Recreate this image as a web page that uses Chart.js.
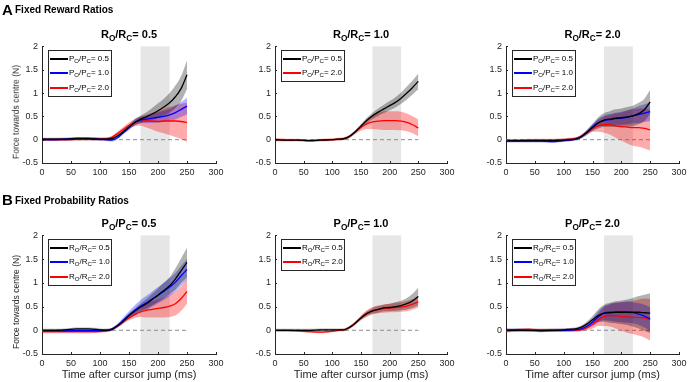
<!DOCTYPE html>
<html>
<head>
<meta charset="utf-8">
<script src="https://cdn.jsdelivr.net/npm/chart.js@4/dist/chart.umd.min.js"></script>
<style>
  body { margin: 0; background: #fff; }
  #fig { position: relative; width: 688px; height: 382px; overflow: hidden; font-family: "Liberation Sans", Arial, sans-serif; color: #262626; }
  canvas { position: absolute; }
  .txt { position: absolute; white-space: nowrap; line-height: 1; }
  .letter { font-weight: bold; font-size: 15px; color: #000; }
  .head { font-weight: bold; font-size: 10px; color: #000; }
  .ttl { font-weight: bold; font-size: 11px; text-align: center; color: #000; }
  .xlab { font-size: 11px; }
  .ylab { font-size: 8.5px; transform: translate(-50%, -50%) rotate(-90deg); }
  sub { font-size: 75%; vertical-align: -0.4em; line-height: 0; }
  .legend { position: absolute; background: #fff; border: 1px solid #262626; font-size: 8px; box-sizing: border-box; }
  .legend .row { position: absolute; left: 1px; height: 12px; white-space: nowrap; }
  .legend .swatch { position: absolute; left: 0; top: 5px; width: 18px; height: 1.5px; }
  .legend .lbl { position: absolute; left: 19px; top: 1px; color: #000; }
</style>
</head>
<body>
<div id="fig"></div>
<script>
// shared axes
const TIME = [0, 20, 40, 60, 80, 100, 110, 120, 130, 140, 150, 160, 170, 180, 190, 200, 210, 220, 230, 240, 250];
const WINDOW_MS = [170, 220];
const X_TICKS = [0, 50, 100, 150, 200, 250, 300];
const Y_TICKS = [-0.5, 0, 0.5, 1, 1.5, 2];

// A: fixed reward ratio R_O/R_C = 0.5
const a1Black    = [0.01, 0.01, 0.01, 0.02, 0.02, 0.01, 0.01, 0.02, 0.08, 0.17, 0.27, 0.37, 0.44, 0.49, 0.55, 0.62, 0.70, 0.79, 0.92, 1.10, 1.39];
const a1BlackErr = [0.03, 0.03, 0.03, 0.03, 0.03, 0.03, 0.03, 0.03, 0.03, 0.04, 0.05, 0.06, 0.08, 0.10, 0.13, 0.16, 0.18, 0.21, 0.24, 0.27, 0.31];
const a1Blue     = [0.00, 0.00, 0.01, 0.03, 0.03, 0.01, 0.00, -0.01, 0.04, 0.15, 0.26, 0.37, 0.42, 0.44, 0.46, 0.48, 0.50, 0.53, 0.58, 0.65, 0.72];
const a1BlueErr  = [0.03, 0.03, 0.03, 0.03, 0.03, 0.03, 0.03, 0.03, 0.03, 0.04, 0.05, 0.06, 0.07, 0.08, 0.10, 0.11, 0.12, 0.13, 0.15, 0.16, 0.18];
const a1Red      = [0.00, 0.00, 0.00, 0.01, 0.01, 0.01, 0.02, 0.05, 0.13, 0.22, 0.31, 0.37, 0.40, 0.40, 0.40, 0.39, 0.40, 0.40, 0.40, 0.39, 0.37];
const a1RedErr   = [0.03, 0.03, 0.03, 0.03, 0.03, 0.03, 0.03, 0.03, 0.04, 0.05, 0.06, 0.08, 0.10, 0.14, 0.18, 0.22, 0.26, 0.30, 0.34, 0.38, 0.42];

// A: R_O/R_C = 1.0
const a2Black    = [0.00, -0.01, -0.01, -0.02, -0.01, 0.00, 0.01, 0.02, 0.07, 0.17, 0.29, 0.41, 0.51, 0.59, 0.66, 0.73, 0.80, 0.89, 1.00, 1.12, 1.25];
const a2BlackErr = [0.02, 0.02, 0.02, 0.02, 0.02, 0.02, 0.02, 0.02, 0.03, 0.03, 0.04, 0.06, 0.07, 0.08, 0.09, 0.10, 0.11, 0.12, 0.14, 0.15, 0.17];
const a2Red      = [0.00, -0.01, -0.01, -0.02, -0.01, 0.00, 0.01, 0.02, 0.07, 0.16, 0.26, 0.34, 0.38, 0.40, 0.41, 0.41, 0.41, 0.40, 0.37, 0.32, 0.25];
const a2RedErr   = [0.04, 0.03, 0.03, 0.03, 0.03, 0.03, 0.03, 0.03, 0.03, 0.04, 0.07, 0.11, 0.15, 0.18, 0.20, 0.20, 0.20, 0.20, 0.19, 0.18, 0.18];

// A: R_O/R_C = 2.0
const a3Black    = [-0.02, -0.02, -0.02, -0.02, -0.02, -0.01, 0.00, 0.01, 0.06, 0.15, 0.26, 0.36, 0.42, 0.44, 0.46, 0.47, 0.49, 0.51, 0.56, 0.64, 0.81];
const a3BlackErr = [0.03, 0.03, 0.03, 0.03, 0.03, 0.03, 0.03, 0.03, 0.04, 0.06, 0.08, 0.12, 0.15, 0.17, 0.19, 0.20, 0.21, 0.22, 0.23, 0.24, 0.26];
const a3Blue     = [-0.03, -0.03, -0.03, -0.03, -0.04, -0.02, -0.01, 0.01, 0.06, 0.16, 0.27, 0.36, 0.41, 0.43, 0.45, 0.46, 0.48, 0.51, 0.54, 0.57, 0.60];
const a3BlueErr  = [0.03, 0.03, 0.03, 0.03, 0.03, 0.03, 0.03, 0.03, 0.03, 0.04, 0.06, 0.09, 0.11, 0.12, 0.13, 0.14, 0.15, 0.16, 0.18, 0.19, 0.20];
const a3Red      = [-0.02, -0.02, -0.01, -0.01, -0.01, 0.00, 0.01, 0.02, 0.07, 0.15, 0.24, 0.30, 0.32, 0.32, 0.30, 0.28, 0.27, 0.26, 0.26, 0.24, 0.21];
const a3RedErr   = [0.03, 0.03, 0.03, 0.03, 0.03, 0.03, 0.03, 0.03, 0.03, 0.04, 0.07, 0.13, 0.17, 0.21, 0.26, 0.30, 0.35, 0.39, 0.41, 0.43, 0.44];

// B: fixed probability ratio P_O/P_C = 0.5
const b1Black    = [0.00, 0.00, 0.01, 0.03, 0.03, 0.01, 0.00, 0.02, 0.09, 0.19, 0.31, 0.40, 0.49, 0.56, 0.65, 0.74, 0.84, 0.94, 1.08, 1.26, 1.43];
const b1BlackErr = [0.03, 0.03, 0.03, 0.03, 0.03, 0.03, 0.03, 0.03, 0.03, 0.04, 0.05, 0.06, 0.08, 0.10, 0.12, 0.14, 0.16, 0.18, 0.22, 0.26, 0.31];
const b1Blue     = [-0.01, -0.01, -0.01, -0.01, -0.01, -0.01, 0.00, 0.02, 0.10, 0.21, 0.32, 0.42, 0.51, 0.58, 0.66, 0.74, 0.82, 0.91, 1.01, 1.15, 1.28];
const b1BlueErr  = [0.03, 0.03, 0.03, 0.03, 0.03, 0.03, 0.03, 0.03, 0.04, 0.06, 0.08, 0.11, 0.13, 0.15, 0.16, 0.17, 0.18, 0.19, 0.20, 0.21, 0.22];
const b1Red      = [-0.03, -0.03, -0.03, -0.03, -0.03, -0.02, -0.01, 0.02, 0.09, 0.18, 0.26, 0.33, 0.39, 0.42, 0.44, 0.46, 0.48, 0.51, 0.56, 0.67, 0.82];
const b1RedErr   = [0.03, 0.03, 0.03, 0.03, 0.03, 0.03, 0.03, 0.03, 0.03, 0.04, 0.05, 0.07, 0.11, 0.15, 0.17, 0.19, 0.21, 0.23, 0.25, 0.26, 0.26];

// B: P_O/P_C = 1.0
const b2Black    = [0.00, 0.00, 0.00, 0.00, 0.01, 0.01, 0.01, 0.01, 0.06, 0.15, 0.26, 0.35, 0.41, 0.44, 0.47, 0.48, 0.50, 0.52, 0.56, 0.62, 0.71];
const b2BlackErr = [0.03, 0.03, 0.03, 0.03, 0.03, 0.03, 0.03, 0.03, 0.03, 0.03, 0.04, 0.05, 0.06, 0.07, 0.07, 0.08, 0.09, 0.10, 0.12, 0.15, 0.19];
const b2Red      = [0.00, 0.00, -0.01, -0.03, -0.04, -0.02, 0.00, 0.01, 0.06, 0.15, 0.26, 0.35, 0.41, 0.44, 0.46, 0.47, 0.48, 0.49, 0.51, 0.55, 0.60];
const b2RedErr   = [0.02, 0.02, 0.02, 0.02, 0.02, 0.02, 0.02, 0.02, 0.03, 0.04, 0.05, 0.07, 0.08, 0.08, 0.09, 0.09, 0.10, 0.10, 0.11, 0.11, 0.12];

// B: P_O/P_C = 2.0
const b3Black    = [0.00, 0.00, 0.00, 0.00, 0.00, 0.01, 0.02, 0.03, 0.06, 0.13, 0.22, 0.31, 0.36, 0.37, 0.38, 0.38, 0.38, 0.38, 0.38, 0.37, 0.36];
const b3BlackErr = [0.03, 0.03, 0.03, 0.03, 0.03, 0.03, 0.03, 0.03, 0.04, 0.05, 0.08, 0.13, 0.18, 0.21, 0.23, 0.25, 0.27, 0.30, 0.34, 0.38, 0.42];
const b3Blue     = [0.01, 0.01, 0.00, -0.01, 0.00, 0.00, 0.00, 0.01, 0.03, 0.08, 0.17, 0.28, 0.36, 0.38, 0.38, 0.38, 0.38, 0.37, 0.34, 0.30, 0.24];
const b3BlueErr  = [0.03, 0.03, 0.03, 0.03, 0.03, 0.03, 0.03, 0.03, 0.04, 0.05, 0.08, 0.12, 0.15, 0.18, 0.20, 0.21, 0.22, 0.22, 0.23, 0.24, 0.25];
const b3Red      = [-0.02, 0.01, 0.02, 0.00, 0.00, 0.00, 0.00, 0.00, 0.01, 0.05, 0.12, 0.22, 0.29, 0.31, 0.31, 0.29, 0.28, 0.27, 0.27, 0.26, 0.22];
const b3RedErr   = [0.03, 0.03, 0.03, 0.03, 0.03, 0.03, 0.03, 0.03, 0.03, 0.05, 0.08, 0.13, 0.20, 0.23, 0.27, 0.30, 0.33, 0.35, 0.38, 0.41, 0.44];

const BLACK = { line: "#000000", band: "rgba(0,0,0,0.3)" };
const BLUE = { line: "#0000ff", band: "rgba(0,0,255,0.3)" };
const RED = { line: "#ff0000", band: "rgba(255,0,0,0.33)" };

// layout of the six axes (pixel boxes of the plot areas)
const cols = [{ l: 42, r: 216 }, { l: 275, r: 447 }, { l: 506, r: 679 }];
const rows = [{ t: 45, b: 163 }, { t: 234, b: 354 }];

const panels = [
  { row: 0, col: 0, title: ["R", "0.5"], key: "P", series: [
    { ratio: "0.5", c: BLACK, mean: a1Black, err: a1BlackErr },
    { ratio: "1.0", c: BLUE, mean: a1Blue, err: a1BlueErr },
    { ratio: "2.0", c: RED, mean: a1Red, err: a1RedErr }] },
  { row: 0, col: 1, title: ["R", "1.0"], key: "P", series: [
    { ratio: "0.5", c: BLACK, mean: a2Black, err: a2BlackErr },
    { ratio: "2.0", c: RED, mean: a2Red, err: a2RedErr }] },
  { row: 0, col: 2, title: ["R", "2.0"], key: "P", series: [
    { ratio: "0.5", c: BLACK, mean: a3Black, err: a3BlackErr },
    { ratio: "1.0", c: BLUE, mean: a3Blue, err: a3BlueErr },
    { ratio: "2.0", c: RED, mean: a3Red, err: a3RedErr }] },
  { row: 1, col: 0, title: ["P", "0.5"], key: "R", series: [
    { ratio: "0.5", c: BLACK, mean: b1Black, err: b1BlackErr },
    { ratio: "1.0", c: BLUE, mean: b1Blue, err: b1BlueErr },
    { ratio: "2.0", c: RED, mean: b1Red, err: b1RedErr }] },
  { row: 1, col: 1, title: ["P", "1.0"], key: "R", series: [
    { ratio: "0.5", c: BLACK, mean: b2Black, err: b2BlackErr },
    { ratio: "2.0", c: RED, mean: b2Red, err: b2RedErr }] },
  { row: 1, col: 2, title: ["P", "2.0"], key: "R", series: [
    { ratio: "0.5", c: BLACK, mean: b3Black, err: b3BlackErr },
    { ratio: "1.0", c: BLUE, mean: b3Blue, err: b3BlueErr },
    { ratio: "2.0", c: RED, mean: b3Red, err: b3RedErr }] },
];

const fig = document.getElementById("fig");

const addText = (cls, html, style) => {
  const d = document.createElement("div");
  d.className = "txt " + cls;
  d.innerHTML = html;
  Object.assign(d.style, style);
  fig.appendChild(d);
  return d;
};

const ratioHtml = (k) => `${k}<sub>O</sub>/${k}<sub>C</sub>`;

// grey analysis window behind the data
const windowPlugin = {
  id: "window",
  beforeDatasetsDraw(chart) {
    const { ctx, scales: { x, y } } = chart;
    const x0 = x.getPixelForValue(WINDOW_MS[0]);
    const x1 = x.getPixelForValue(WINDOW_MS[1]);
    const y0 = y.getPixelForValue(Y_TICKS[Y_TICKS.length - 1]);
    const y1 = y.getPixelForValue(Y_TICKS[0]);
    ctx.save();
    ctx.fillStyle = "#e6e6e6";
    ctx.fillRect(x0, y0, x1 - x0, y1 - y0);
    ctx.restore();
  },
};

// matlab style inward tick marks
const inTicks = {
  id: "inTicks",
  afterDraw(chart) {
    const { ctx, chartArea: a, scales: { x, y } } = chart;
    ctx.save();
    ctx.strokeStyle = "#262626";
    ctx.lineWidth = 1;
    ctx.beginPath();
    X_TICKS.forEach((t) => {
      const px = Math.round(x.getPixelForValue(t)) + 0.5;
      ctx.moveTo(px, a.bottom);
      ctx.lineTo(px, a.bottom - 2);
    });
    Y_TICKS.forEach((v) => {
      const py = Math.round(y.getPixelForValue(v)) + 0.5;
      ctx.moveTo(a.left, py);
      ctx.lineTo(a.left + 2, py);
    });
    ctx.stroke();
    ctx.restore();
  },
};

const PAD_L = 32, PAD_T = 8, PAD_R = 12, PAD_B = 16;

panels.forEach((p) => {
  const c = cols[p.col], r = rows[p.row];
  const w = c.r - c.l, h = r.b - r.t;

  const canvas = document.createElement("canvas");
  canvas.width = w + PAD_L + PAD_R;
  canvas.height = h + PAD_T + PAD_B;
  canvas.style.left = c.l - PAD_L + "px";
  canvas.style.top = r.t - PAD_T + "px";
  fig.appendChild(canvas);

  const datasets = [];
  p.series.forEach((s) => {
    datasets.push({
      data: TIME.map((t, i) => ({ x: t, y: s.mean[i] })),
      borderColor: s.c.line,
      borderWidth: 1.3,
      pointRadius: 0,
      cubicInterpolationMode: "monotone",
      fill: false,
      order: 0,
    });
  });
  p.series.forEach((s) => {
    datasets.push({
      data: TIME.map((t, i) => ({ x: t, y: s.mean[i] + s.err[i] })),
      borderWidth: 0,
      pointRadius: 0,
      backgroundColor: s.c.band,
      cubicInterpolationMode: "monotone",
      fill: "+1",
      order: 1,
    });
    datasets.push({
      data: TIME.map((t, i) => ({ x: t, y: s.mean[i] - s.err[i] })),
      borderWidth: 0,
      pointRadius: 0,
      cubicInterpolationMode: "monotone",
      fill: false,
      order: 1,
    });
  });
  datasets.push({
    data: [{ x: TIME[0], y: 0 }, { x: TIME[TIME.length - 1], y: 0 }],
    borderColor: "#8c8c8c",
    borderWidth: 1,
    borderDash: [4, 3],
    pointRadius: 0,
    fill: false,
    order: 2,
  });

  new Chart(canvas, {
    type: "line",
    data: { datasets },
    plugins: [windowPlugin, inTicks],
    options: {
      responsive: false,
      animation: false,
      events: [],
      layout: { padding: { left: 0, top: PAD_T, right: PAD_R, bottom: 0 } },
      plugins: { legend: { display: false }, tooltip: { enabled: false } },
      scales: {
        x: {
          type: "linear",
          min: X_TICKS[0],
          max: X_TICKS[X_TICKS.length - 1],
          afterBuildTicks: (s) => { s.ticks = X_TICKS.map((v) => ({ value: v })); },
          afterFit: (s) => { s.height = PAD_B; },
          grid: { display: false, drawTicks: false },
          border: { display: true, color: "#262626", width: 1 },
          ticks: { padding: 4, maxRotation: 0, color: "#262626", font: { family: "Liberation Sans", size: 9 }, callback: (v) => String(v) },
        },
        y: {
          min: Y_TICKS[0],
          max: Y_TICKS[Y_TICKS.length - 1],
          afterBuildTicks: (s) => { s.ticks = Y_TICKS.map((v) => ({ value: v })); },
          afterFit: (s) => { s.width = PAD_L; },
          grid: { display: false, drawTicks: false },
          border: { display: true, color: "#262626", width: 1 },
          ticks: { padding: 4, color: "#262626", font: { family: "Liberation Sans", size: 9 }, callback: (v) => String(v) },
        },
      },
    },
  });

  // title over the axes
  addText("ttl", `${ratioHtml(p.title[0])}= ${p.title[1]}`, {
    left: c.l + "px", width: w + "px", top: r.t - 16 + "px",
  });

  // legend box
  const lg = document.createElement("div");
  lg.className = "legend";
  const rowsH = [2, 16, 31];
  Object.assign(lg.style, {
    left: c.l + 6 + "px", top: r.t + 5 + "px",
    width: "64px", height: (p.series.length === 3 ? 47 : 32) + "px",
  });
  p.series.forEach((s, i) => {
    const row = document.createElement("div");
    row.className = "row";
    row.style.top = rowsH[i] + "px";
    row.innerHTML = `<span class="swatch" style="background:${s.c.line}"></span><span class="lbl">${ratioHtml(p.key)}= ${s.ratio}</span>`;
    lg.appendChild(row);
  });
  fig.appendChild(lg);

  if (p.col === 0) {
    addText("ylab", "Force towards centre (N)", { left: "16px", top: (r.t + r.b) / 2 + 8 + "px" });
  }
  if (p.row === 1) {
    addText("xlab", "Time after cursor jump (ms)", { left: c.l + "px", width: w + "px", top: "369px", textAlign: "center" });
  }
});

addText("letter", "A", { left: "2px", top: "2px" });
addText("head", "Fixed Reward Ratios", { left: "15px", top: "5px" });
addText("letter", "B", { left: "2px", top: "192px" });
addText("head", "Fixed Probability Ratios", { left: "15px", top: "196px" });
</script>
</body>
</html>
